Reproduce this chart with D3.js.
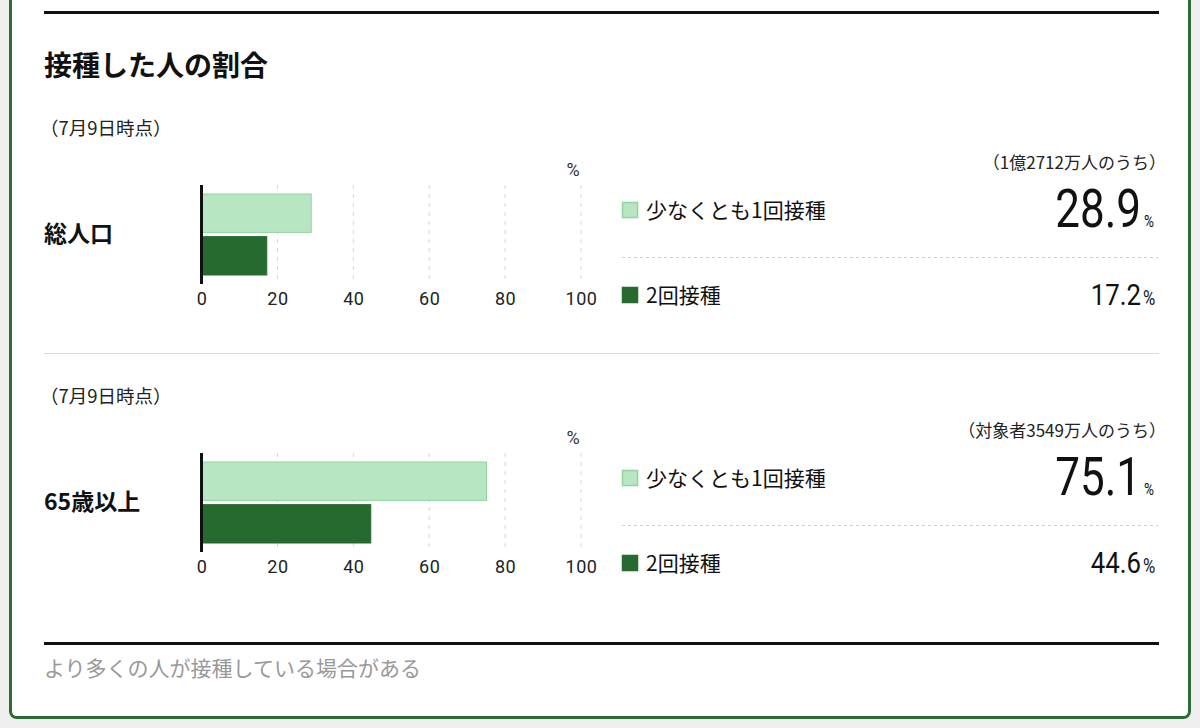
<!DOCTYPE html>
<html lang="ja">
<head>
<meta charset="UTF-8">
<title>接種した人の割合</title>
<script src="https://cdnjs.cloudflare.com/ajax/libs/d3/7.8.5/d3.min.js"></script>
<style>
  html, body { margin: 0; padding: 0; background: #efefef; }
  svg { display: block; }
  .jp { font-family: "Noto Sans CJK JP", "Noto Sans", sans-serif; }
  .num { font-family: Roboto, "Noto Sans", sans-serif; }
</style>
</head>
<body>
<div id="chart"></div>
<script>
// data
const groups = ["総人口", "65歳以上"];
const asOf = ["（7月9日時点）", "（7月9日時点）"];
const baseNotes = ["（1億2712万人のうち）", "（対象者3549万人のうち）"];
const seriesNames = ["少なくとも1回接種", "2回接種"];
const firstDose = [28.9, 75.1];
const secondDose = [17.2, 44.6];
const tickValues = [0, 20, 40, 60, 80, 100];

const title = "接種した人の割合";
const footnote = "より多くの人が接種している場合がある";

const colors = { light: "#b8e6c3", lightStroke: "#8dd49e", dark: "#276a2f" };

const width = 1200, height = 728;
const blockOffset = 268;

const svg = d3.select("#chart").append("svg")
    .attr("width", width)
    .attr("height", height);

// card with green frame
svg.append("rect")
    .attr("x", 10.5).attr("y", -30)
    .attr("width", 1179).attr("height", 747.5)
    .attr("rx", 6)
    .attr("fill", "#fff")
    .attr("stroke", "#2b6d35")
    .attr("stroke-width", 3);

// top & bottom rules
svg.append("rect").attr("x", 44).attr("y", 11).attr("width", 1115).attr("height", 3).attr("fill", "#111");
svg.append("rect").attr("x", 44).attr("y", 642).attr("width", 1115).attr("height", 3).attr("fill", "#111");
// block separator
svg.append("line")
    .attr("x1", 44).attr("x2", 1159)
    .attr("y1", 353.5).attr("y2", 353.5)
    .attr("stroke", "#dcdcdc").attr("stroke-width", 1);

svg.append("text").attr("class", "jp")
    .attr("x", 44).attr("y", 76)
    .attr("font-size", 28).attr("font-weight", 700)
    .attr("fill", "#111")
    .text(title);

svg.append("text").attr("class", "jp")
    .attr("x", 44).attr("y", 676)
    .attr("font-size", 21).attr("fill", "#999")
    .text(footnote);

// scales
const x = d3.scaleLinear().domain([0, 100]).range([201.5, 581]);
const y = d3.scaleBand().domain(seriesNames).range([194, 275]).paddingInner(0.1);

groups.forEach((name, i) => {
    const g = svg.append("g").attr("transform", `translate(0,${i * blockOffset})`);
    const vals = [firstDose[i], secondDose[i]];

    g.append("text").attr("class", "jp")
        .attr("x", 40).attr("y", 135)
        .attr("font-size", 18.5).attr("fill", "#222")
        .text(asOf[i]);

    g.append("text").attr("class", "jp")
        .attr("x", 44).attr("y", 242)
        .attr("font-size", 23).attr("font-weight", 700)
        .attr("fill", "#111")
        .text(name);

    // grid
    g.selectAll(".grid").data(tickValues.slice(1)).enter().append("line")
        .attr("x1", d => x(d)).attr("x2", d => x(d))
        .attr("y1", 185).attr("y2", 284)
        .attr("stroke", "#d6d6d6")
        .attr("stroke-dasharray", "4,5");

    // axis labels
    const axis = d3.axisBottom(x).tickValues(tickValues).tickSize(0).tickPadding(0);
    const ax = g.append("g").attr("transform", "translate(0,305)").call(axis);
    ax.select(".domain").remove();
    ax.selectAll(".tick text")
        .attr("class", "num")
        .attr("dy", 0)
        .attr("font-size", 18)
        .attr("letter-spacing", 0.5)
        .attr("fill", "#222");

    g.append("text").attr("class", "num")
        .attr("x", 573).attr("y", 176)
        .attr("text-anchor", "middle")
        .attr("font-size", 18).attr("fill", "#333")
        .text("%");

    // bars
    g.selectAll(".bar").data(vals).enter().append("rect")
        .attr("x", x(0))
        .attr("y", (d, j) => y(seriesNames[j]))
        .attr("width", d => x(d) - x(0))
        .attr("height", y.bandwidth())
        .attr("fill", (d, j) => j === 0 ? colors.light : colors.dark)
        .attr("stroke", (d, j) => j === 0 ? colors.lightStroke : colors.dark)
        .attr("stroke-width", 1);

    // zero line
    g.append("line")
        .attr("x1", x(0)).attr("x2", x(0))
        .attr("y1", 185).attr("y2", 284)
        .attr("stroke", "#111").attr("stroke-width", 3);

    // right side legend + values
    g.append("text").attr("class", "jp")
        .attr("x", 1166).attr("y", 169)
        .attr("text-anchor", "end")
        .attr("font-size", 17).attr("fill", "#222")
        .text(baseNotes[i]);

    const rowY = [210, 295];
    seriesNames.forEach((s, j) => {
        g.append("rect")
            .attr("x", 622.5).attr("y", rowY[j] - 7.5)
            .attr("width", 15).attr("height", 15)
            .attr("fill", j === 0 ? colors.light : colors.dark)
            .attr("stroke", j === 0 ? colors.lightStroke : colors.dark)
            .attr("stroke-width", 1.5);
        g.append("text").attr("class", "jp")
            .attr("x", 646).attr("y", rowY[j] + 8)
            .attr("font-size", 21).attr("fill", "#111")
            .text(s);
    });

    g.append("line")
        .attr("x1", 622).attr("x2", 1158)
        .attr("y1", 257.5).attr("y2", 257.5)
        .attr("stroke", "#d0d0d0")
        .attr("stroke-dasharray", "3,3");

    // big value
    g.append("g").attr("transform", "translate(1141,227) scale(0.83,1)")
        .append("text").attr("class", "num")
        .attr("text-anchor", "end")
        .attr("font-size", 53).attr("fill", "#111")
        .text(d3.format(".1f")(vals[0]));
    g.append("g").attr("transform", "translate(1144,227) scale(0.85,1)")
        .append("text").attr("class", "num")
        .attr("font-size", 16).attr("fill", "#111")
        .text("%");

    g.append("g").attr("transform", "translate(1141,305) scale(0.86,1)")
        .append("text").attr("class", "num")
        .attr("text-anchor", "end")
        .attr("font-size", 30).attr("fill", "#111")
        .text(d3.format(".1f")(vals[1]));
    g.append("g").attr("transform", "translate(1143,305) scale(0.8,1)")
        .append("text").attr("class", "num")
        .attr("font-size", 21).attr("fill", "#111")
        .text("%");
});
</script>
</body>
</html>
